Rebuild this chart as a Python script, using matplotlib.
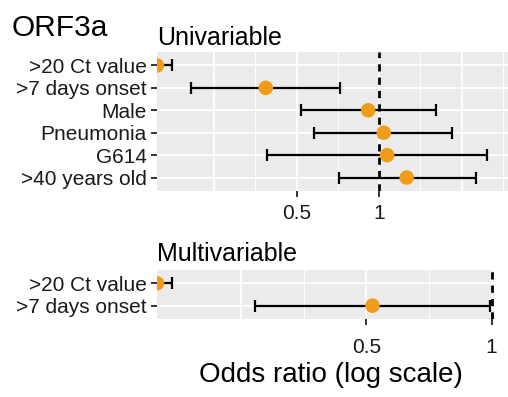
import numpy as np
import matplotlib
matplotlib.use("Agg")
import matplotlib.pyplot as plt

plt.rcParams['font.family'] = ['Liberation Sans', 'DejaVu Sans']

# Univariable odds ratios with 95% confidence intervals
uni_labels = [">20 Ct value", ">7 days onset", "Male", "Pneumonia", "G614", ">40 years old"]
uni_or = [0.155, 0.386, 0.912, 1.04, 1.07, 1.26]
uni_lo = [0.12, 0.207, 0.518, 0.577, 0.39, 0.716]
uni_hi = [0.176, 0.722, 1.609, 1.84, 2.48, 2.25]

# Multivariable odds ratios with 95% confidence intervals
multi_labels = [">20 Ct value", ">7 days onset"]
multi_or = [0.157, 0.517]
multi_lo = [0.12, 0.27]
multi_hi = [0.1705, 0.99]

x_ticks = [0.5, 1]
x_ticklabels = ["0.5", "1"]

PANEL = "#EBEBEB"
POINT = "#F09C1A"
major_grid = [0.25, 0.5, 1, 2]
minor_grid = [0.25 * np.sqrt(2), 0.5 * np.sqrt(2), np.sqrt(2), 2 * np.sqrt(2)]

W, H = 508, 397
fig = plt.figure(figsize=(W / 100, H / 100), dpi=100)


def px_axes(x0, y0, x1, y1):
    return fig.add_axes([x0 / W, 1 - y1 / H, (x1 - x0) / W, (y1 - y0) / H])


def forest(ax, labels, est, lo, hi, xlim, xpad):
    n = len(labels)
    ys = np.arange(1, n + 1)
    est = np.asarray(est); lo = np.asarray(lo); hi = np.asarray(hi)
    ax.set_facecolor(PANEL)
    ax.set_xscale("log")
    ax.set_xlim(*xlim)
    ax.set_ylim(n + 0.6, 0.4)
    for g in major_grid:
        ax.axvline(g, color="white", lw=1.3, zorder=0.5)
    for g in minor_grid:
        ax.axvline(g, color="white", lw=0.7, zorder=0.5)
    ax.set_yticks(ys)
    ax.set_yticklabels(labels)
    ax.grid(axis="y", color="white", lw=1.3, zorder=0.5)
    ax.set_axisbelow(True)
    ax.minorticks_off()
    ax.set_xticks(x_ticks)
    ax.set_xticklabels(x_ticklabels)
    ax.xaxis.set_minor_locator(matplotlib.ticker.NullLocator())
    for s in ax.spines.values():
        s.set_visible(False)
    ax.tick_params(axis="both", length=4.5, width=1.4, color="#333333",
                   labelsize=15, labelcolor="#1a1a1a", pad=3)
    ax.tick_params(axis="x", pad=xpad)
    ax.axvline(1, color="black", lw=2, ls=(0, (2.6, 2.2)), zorder=2)
    ax.errorbar(est, ys, xerr=[est - lo, hi - est], fmt="none", ecolor="black",
                elinewidth=1.6, capsize=4.5, capthick=1.6, zorder=3)
    ax.scatter(est, ys, s=110, color=POINT, edgecolors="none", zorder=4)


ax1 = px_axes(157, 52, 508, 191)
forest(ax1, uni_labels, uni_or, uni_lo, uni_hi, (0.155, 2.95), xpad=5)

ax2 = px_axes(157, 270, 494, 319)
forest(ax2, multi_labels, multi_or, multi_lo, multi_hi, (0.157, 1.013), xpad=9)

fig.text(12 / W, 1 - 36 / H, "ORF3a", fontsize=21.5, va="baseline", ha="left")
fig.text(157 / W, 1 - 45 / H, "Univariable", fontsize=18, va="baseline", ha="left")
fig.text(157 / W, 1 - 261 / H, "Multivariable", fontsize=18, va="baseline", ha="left")
fig.text(331 / W, 1 - 382 / H, "Odds ratio (log scale)", fontsize=20,
         va="baseline", ha="center")

fig.savefig("out.png", dpi=100, facecolor="white")
